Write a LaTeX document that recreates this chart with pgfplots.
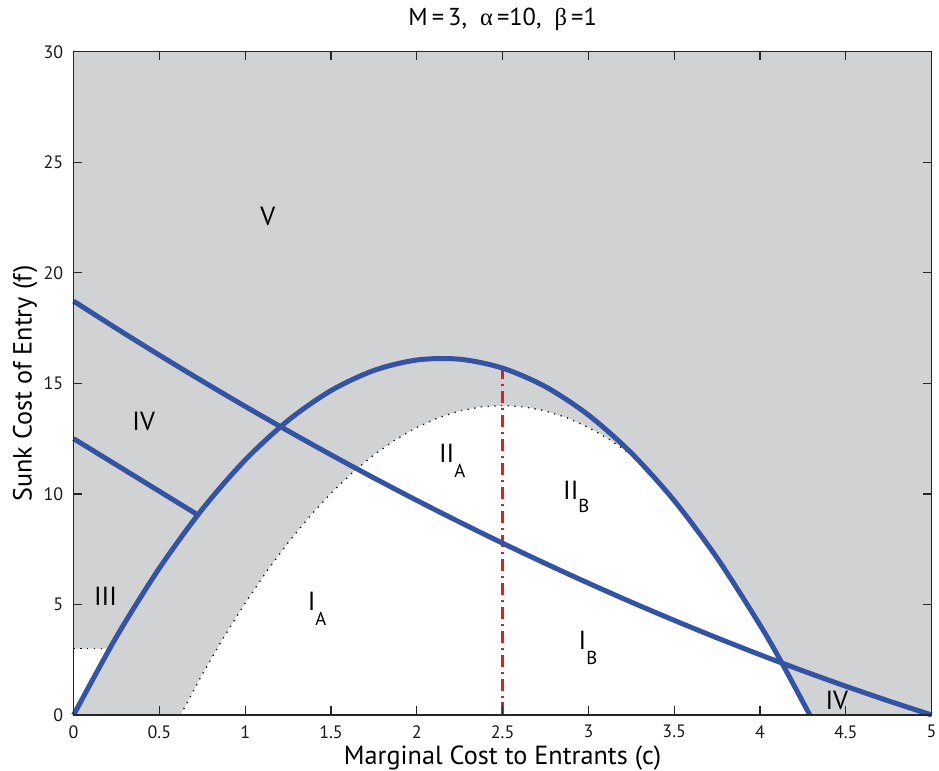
\documentclass[border=0pt]{standalone}
\usepackage{pgfplots}
\pgfplotsset{compat=1.18}
\usepackage{fontspec}
\setmainfont{PT Sans}
\newfontfamily\greekfont{Liberation Serif}
\definecolor{bggray}{RGB}{209,210,212}
\definecolor{lblue}{RGB}{52,83,163}
\definecolor{lred}{RGB}{225,30,36}
\newcommand{\lab}{\fontsize{10.5}{12}\selectfont}
\newcommand{\sub}[2]{\raisebox{-#1}{\fontsize{7.5}{9}\selectfont #2}}
\begin{document}
\begin{tikzpicture}
\begin{axis}[
  scale only axis, width=343.6pt, height=265.6pt,
  xmin=0, xmax=5, ymin=0, ymax=30,
  xtick={0,0.5,1,1.5,2,2.5,3,3.5,4,4.5,5},
  ytick={0,5,10,15,20,25,30},
  xticklabels={0,0.5,1,1.5,2,2.5,3,3.5,4,4.5,5},
  tick align=inside, major tick length=3.4pt,
  tick style={line width=0.5pt, color=black!85},
  axis line style={line width=0.6pt, color=black!85},
  axis background/.style={fill=bggray},
  axis on top,
  ticklabel style={font=\fontsize{7.2}{8}\selectfont, color=black!90},
  /pgf/number format/assume math mode=true,
  xticklabel style={inner xsep=1pt, inner ysep=0pt, yshift=-3.9pt},
  yticklabel style={xshift=-0.6pt},
  title={M\,=\,3,\ \ {\greekfont α}\,=10,\ \ {\greekfont β}\,=1},
  every axis title/.style={at={(axis description cs:0.5,1.0392)}, anchor=base, font=\fontsize{9.8}{11}\selectfont},
  xlabel={Marginal Cost to Entrants (c)},
  xlabel style={at={(axis description cs:0.5,-0.0750)}, anchor=base, inner sep=0pt, font=\lab},
  ylabel={Sunk Cost of Entry (f)},
  ylabel style={at={(axis description cs:-0.0489,0.5)}, anchor=base, inner sep=5.2pt, font=\lab},
  clip=false,
]
% white regions
\addplot[fill=white, draw=none] coordinates {
 (0.623,0) (0.75,1.842) (0.875,3.517) (1.0,5.067) (1.125,6.494) (1.25,7.797)
 (1.375,8.975) (1.5,10.03) (1.625,10.96) (1.75,11.767) (1.875,12.449) (2.0,13.008)
 (2.125,13.442) (2.25,13.752) (2.375,13.938) (2.5,14.0) (2.625,13.938) (2.75,13.752)
 (2.875,13.442) (3.0,13.008) (3.125,12.449) (3.25,11.767) (3.3,11.459)
 (3.375,10.827) (3.5,9.694) (3.625,8.452) (3.75,7.100) (3.875,5.638) (4.0,4.067)
 (4.125,2.386) (4.25,0.596) (4.29,0)} \closedcycle;
\addplot[fill=white, draw=none] coordinates {
 (0,0) (0,3) (0.21,3) (0.15,2.177) (0.1,1.469) (0.05,0.743) (0,0)} -- cycle;
% dotted boundaries
\addplot[black, line width=0.5pt, dash pattern=on 0.5pt off 2.2pt] coordinates {
 (0.623,0) (0.75,1.842) (0.875,3.517) (1.0,5.067) (1.125,6.494) (1.25,7.797)
 (1.375,8.975) (1.5,10.03) (1.625,10.96) (1.75,11.767) (1.875,12.449) (2.0,13.008)
 (2.125,13.442) (2.25,13.752) (2.375,13.938) (2.5,14.0) (2.625,13.938) (2.75,13.752)
 (2.875,13.442) (3.0,13.008) (3.125,12.449) (3.25,11.767) (3.3,11.459)};
\addplot[black, line width=0.5pt, dash pattern=on 0.5pt off 2.2pt] coordinates {(0,3) (0.21,3)};
% red dash-dot
\addplot[lred, line width=1.1pt, dash pattern=on 5pt off 2pt on 0.6pt off 2pt] coordinates {(2.5,0) (2.5,15.689)};
% blue curves
\addplot[lblue, line width=2pt, smooth] coordinates {
 (0,0) (0.25,3.541) (0.5,6.644) (0.75,9.308) (1,11.535) (1.25,13.323) (1.5,14.673)
 (1.75,15.584) (2,16.057) (2.25,16.093) (2.5,15.689) (2.75,14.848) (3,13.568)
 (3.25,11.85) (3.5,9.694) (3.75,7.1) (4,4.067) (4.125,2.386) (4.29,0)};
\addplot[lblue, line width=2pt, smooth] coordinates {
 (0,18.72) (0.25,17.482) (0.5,16.276) (0.75,15.101) (1,13.958) (1.25,12.848)
 (1.5,11.768) (1.75,10.721) (2,9.706) (2.25,8.722) (2.5,7.77) (2.75,6.85)
 (3,5.962) (3.25,5.105) (3.5,4.28) (3.75,3.488) (4,2.726) (4.25,1.997)
 (4.5,1.3) (4.75,0.634) (5,0)};
\addplot[lblue, line width=2pt] coordinates {(0,12.5) (0.7237,9.05)};
% region labels
\node[anchor=base west, font=\lab, inner sep=0pt] at (axis cs:1.085,22.14) {V};
\node[anchor=base west, font=\lab, inner sep=0pt] at (axis cs:0.34,12.85) {IV};
\node[anchor=base west, font=\lab, inner sep=0pt] at (axis cs:0.116,4.97) {III};
\node[anchor=base west, font=\lab, inner sep=0pt] at (axis cs:4.379,0.27) {IV};
\node[anchor=base west, font=\lab, inner sep=0pt] at (axis cs:1.362,4.74) {I\sub{6pt}{A}};
\node[anchor=base west, font=\lab, inner sep=0pt] at (axis cs:2.94,2.94) {I\sub{6pt}{B}};
\node[anchor=base west, font=\lab, inner sep=0pt] at (axis cs:2.127,11.42) {II\sub{6pt}{A}};
\node[anchor=base west, font=\lab, inner sep=0pt] at (axis cs:2.85,9.76) {II\sub{5.5pt}{B}};
\end{axis}
\end{tikzpicture}
\end{document}
